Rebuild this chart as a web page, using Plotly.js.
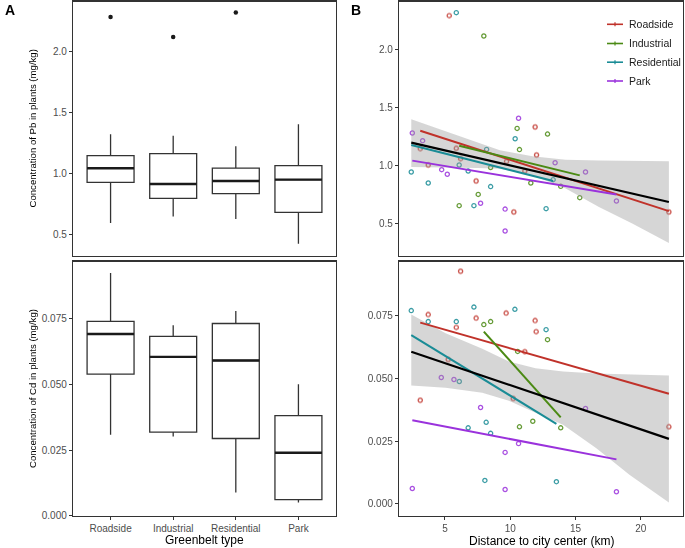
<!DOCTYPE html>
<html>
<head>
<meta charset="utf-8">
<script src="https://cdn.plot.ly/plotly-3.0.1.min.js"></script>
<style>html,body{margin:0;padding:0;background:#fff;}#chart{width:685px;height:548px;}</style>
</head>
<body>
<div id="chart"></div>
<script>
// ---------------- DATA ----------------
const categories = ['Roadside', 'Industrial', 'Residential', 'Park'];
const groupColors = ['#C0322A', '#4B8A14', '#1A8C96', '#9A32DC'];

// Box statistics (Pb)
const pbQ1   = [0.929, 0.798, 0.836, 0.683];
const pbMed  = [1.044, 0.915, 0.940, 0.951];
const pbQ3   = [1.148, 1.164, 1.046, 1.066];
const pbLow  = [0.596, 0.650, 0.628, 0.426];
const pbHigh = [1.322, 1.311, 1.224, 1.404];
const pbOutlierCat = ['Roadside', 'Industrial', 'Residential'];
const pbOutlierVal = [2.284, 2.120, 2.320];

// Box statistics (Cd)
const cdQ1   = [0.0539, 0.0318, 0.0294, 0.0061];
const cdMed  = [0.0692, 0.0605, 0.0591, 0.0240];
const cdQ3   = [0.0740, 0.0683, 0.0732, 0.0381];
const cdLow  = [0.0308, 0.0302, 0.0088, 0.0050];
const cdHigh = [0.0924, 0.0725, 0.0780, 0.0501];

// Scatter points: Pb vs distance
const roadsidePbX    = [5.33, 3.11, 3.72, 5.87, 6.20, 7.39, 9.72, 10.28, 11.12, 11.91, 12.02, 22.16];
const roadsidePbY    = [2.288, 1.141, 1.000, 1.144, 1.055, 0.862, 1.030, 0.595, 0.948, 1.328, 1.086, 0.595];
const industrialPbX  = [6.09, 7.55, 7.98, 8.50, 10.53, 10.71, 11.58, 12.86, 13.87, 15.33];
const industrialPbY  = [0.650, 0.747, 2.112, 0.978, 1.316, 1.133, 0.845, 1.267, 0.816, 0.719];
const residentialPbX = [2.42, 3.72, 5.87, 6.09, 6.78, 7.22, 8.19, 8.50, 10.38, 12.75, 13.29];
const residentialPbY = [0.940, 0.845, 2.314, 1.000, 0.948, 0.650, 1.135, 0.814, 1.227, 0.624, 0.874];
const parkPbX        = [2.50, 3.29, 4.75, 5.18, 7.73, 9.61, 9.61, 10.64, 13.44, 15.77, 18.14];
const parkPbY        = [1.276, 1.210, 0.960, 0.920, 0.670, 0.620, 0.431, 1.403, 1.020, 0.940, 0.690];

// Scatter points: Cd vs distance
const roadsideCdX    = [3.11, 3.72, 5.25, 5.87, 6.20, 7.39, 9.69, 10.23, 11.12, 11.91, 11.99, 22.16];
const roadsideCdY    = [0.0413, 0.0755, 0.0576, 0.0704, 0.0928, 0.0741, 0.0761, 0.0420, 0.0607, 0.0731, 0.0687, 0.0307];
const industrialCdX  = [7.98, 8.50, 10.57, 10.71, 11.73, 12.86, 13.87];
const industrialCdY  = [0.0715, 0.0727, 0.0608, 0.0307, 0.0329, 0.0655, 0.0303];
const residentialCdX = [2.42, 3.72, 5.87, 6.10, 6.78, 7.22, 8.06, 8.16, 8.50, 10.36, 12.75, 13.54];
const residentialCdY = [0.0771, 0.0727, 0.0727, 0.0488, 0.0303, 0.0785, 0.0093, 0.0325, 0.0281, 0.0776, 0.0695, 0.0088];
const parkCdX        = [2.50, 4.72, 5.69, 7.73, 9.61, 9.61, 10.64, 15.77, 18.14];
const parkCdY        = [0.0061, 0.0504, 0.0496, 0.0384, 0.0205, 0.0057, 0.0240, 0.0380, 0.0048];

// Fitted lines (start, end)
const roadsidePbFitX = [3.11, 22.16],  roadsidePbFitY = [1.296, 0.603];
const industrialPbFitX = [6.09, 15.33], industrialPbFitY = [1.167, 0.911];
const residentialPbFitX = [2.42, 13.29], residentialPbFitY = [1.172, 0.862];
const parkPbFitX = [2.50, 18.14], parkPbFitY = [1.038, 0.745];
const allPbFitX = [2.42, 22.16], allPbFitY = [1.193, 0.681];

const roadsideCdFitX = [3.11, 22.16], roadsideCdFitY = [0.0723, 0.0439];
const industrialCdFitX = [7.98, 13.87], industrialCdFitY = [0.0687, 0.0345];
const residentialCdFitX = [2.42, 13.54], residentialCdFitY = [0.0673, 0.0319];
const parkCdFitX = [2.50, 18.14], parkCdFitY = [0.0333, 0.0177];
const allCdFitX = [2.42, 22.16], allCdFitY = [0.0607, 0.0259];

// Confidence bands
const pbBandX     = [2.42, 5.0, 7.5, 9.21, 11.7, 14.25, 16.8, 19.35, 22.16];
const pbBandUpper = [1.394, 1.290, 1.195, 1.127, 1.075, 1.045, 1.040, 1.036, 1.032];
const pbBandLower = [0.983, 0.980, 0.975, 0.968, 0.911, 0.797, 0.638, 0.495, 0.328];
const cdBandX     = [2.42, 5.05, 7.86, 9.9, 11.94, 14.05, 16.6, 19.16, 22.16];
const cdBandUpper = [0.0755, 0.0681, 0.0619, 0.0568, 0.0541, 0.0528, 0.0520, 0.0516, 0.0512];
const cdBandLower = [0.0472, 0.0463, 0.0443, 0.0411, 0.0363, 0.0315, 0.0221, 0.0115, 0.0005];

// ---------------- BUILD ----------------
const W = 685, H = 548;
const px = v => v / W;
const py = v => 1 - v / H;
const FONT = 'Liberation Sans, Arial, sans-serif';
const catIdx = categories.map((c, i) => i + 1);
const BOXW = 0.75;

const traces = [];

function addBoxes(q1, med, q3, lo, hi, xa, ya) {
  traces.push({
    type: 'box', x: catIdx, q1: q1, median: med, q3: q3,
    lowerfence: lo, upperfence: hi, width: BOXW, whiskerwidth: 0,
    fillcolor: '#ffffff', line: {color: '#333333', width: 1.3},
    boxpoints: false, hoverinfo: 'skip', showlegend: false,
    xaxis: xa, yaxis: ya
  });
  med.forEach((m, i) => {
    traces.push({
      type: 'scatter', mode: 'lines', x: [catIdx[i] - BOXW / 2, catIdx[i] + BOXW / 2], y: [m, m],
      line: {color: '#1a1a1a', width: 2.4}, showlegend: false, hoverinfo: 'skip',
      xaxis: xa, yaxis: ya
    });
  });
}
addBoxes(pbQ1, pbMed, pbQ3, pbLow, pbHigh, 'x', 'y');
traces.push({
  type: 'scatter', mode: 'markers',
  x: pbOutlierCat.map(c => categories.indexOf(c) + 1), y: pbOutlierVal,
  marker: {color: '#1a1a1a', size: 4.5}, showlegend: false, xaxis: 'x', yaxis: 'y'
});
addBoxes(cdQ1, cdMed, cdQ3, cdLow, cdHigh, 'x3', 'y3');

function addScatterPanel(ptsX, ptsY, fitX, fitY, allX, allY, bandX, bandU, bandL, xa, ya) {
  ptsX.forEach((xs, g) => {
    traces.push({
      type: 'scatter', mode: 'markers', x: xs, y: ptsY[g],
      marker: {symbol: 'circle-open', size: 4.2, color: groupColors[g], line: {width: 1.3, color: groupColors[g]}},
      opacity: 0.85, showlegend: false, xaxis: xa, yaxis: ya
    });
  });
  traces.push({
    type: 'scatter', mode: 'lines',
    x: bandX.concat(bandX.slice().reverse()),
    y: bandU.concat(bandL.slice().reverse()),
    fill: 'toself', fillcolor: 'rgba(153,153,153,0.4)', line: {width: 0},
    showlegend: false, hoverinfo: 'skip', xaxis: xa, yaxis: ya
  });
  fitX.forEach((xs, g) => {
    traces.push({
      type: 'scatter', mode: 'lines', x: xs, y: fitY[g],
      line: {color: groupColors[g], width: 2}, showlegend: false, xaxis: xa, yaxis: ya
    });
  });
  traces.push({
    type: 'scatter', mode: 'lines', x: allX, y: allY,
    line: {color: '#000000', width: 2.2}, showlegend: false, xaxis: xa, yaxis: ya
  });
}
addScatterPanel(
  [roadsidePbX, industrialPbX, residentialPbX, parkPbX],
  [roadsidePbY, industrialPbY, residentialPbY, parkPbY],
  [roadsidePbFitX, industrialPbFitX, residentialPbFitX, parkPbFitX],
  [roadsidePbFitY, industrialPbFitY, residentialPbFitY, parkPbFitY],
  allPbFitX, allPbFitY, pbBandX, pbBandUpper, pbBandLower, 'x2', 'y2');
addScatterPanel(
  [roadsideCdX, industrialCdX, residentialCdX, parkCdX],
  [roadsideCdY, industrialCdY, residentialCdY, parkCdY],
  [roadsideCdFitX, industrialCdFitX, residentialCdFitX, parkCdFitX],
  [roadsideCdFitY, industrialCdFitY, residentialCdFitY, parkCdFitY],
  allCdFitX, allCdFitY, cdBandX, cdBandUpper, cdBandLower, 'x4', 'y4');

const leftDom = [px(73), px(336)];
const rightDom = [px(399), px(683)];
const topDom = [py(255.5), py(1.5)];
const botDom = [py(516), py(261.5)];

const baseAxis = {
  showline: true, mirror: true, linecolor: '#333333', linewidth: 1.2,
  showgrid: false, zeroline: false, ticks: 'outside', ticklen: 3, tickwidth: 1,
  tickcolor: '#333333', tickfont: {family: FONT, size: 10, color: '#4d4d4d'}
};
const ax = o => Object.assign({}, baseAxis, o);

const annotations = [
  {text: '<b>A</b>', x: px(3), y: py(10), xanchor: 'left', yanchor: 'middle', font: {family: FONT, size: 14, color: '#000'}},
  {text: '<b>B</b>', x: px(349), y: py(10), xanchor: 'left', yanchor: 'middle', font: {family: FONT, size: 14, color: '#000'}},
  {text: 'Concentration of Pb in plants (mg/kg)', x: px(32), y: py(128.5), textangle: -90, xanchor: 'center', yanchor: 'middle', font: {family: FONT, size: 9.6, color: '#000'}},
  {text: 'Concentration of Cd in plants (mg/kg)', x: px(32), y: py(389), textangle: -90, xanchor: 'center', yanchor: 'middle', font: {family: FONT, size: 9.6, color: '#000'}},
  {text: 'Greenbelt type', x: px(204.5), y: py(540), xanchor: 'center', yanchor: 'middle', font: {family: FONT, size: 12, color: '#000'}},
  {text: 'Distance to city center (km)', x: px(541), y: py(541), xanchor: 'center', yanchor: 'middle', font: {family: FONT, size: 12, color: '#000'}}
].map(a => Object.assign({xref: 'paper', yref: 'paper', showarrow: false}, a));

const legendRows = [24.3, 43.5, 62.2, 81];
const shapes = [];
categories.forEach((c, i) => {
  annotations.push({
    xref: 'paper', yref: 'paper', showarrow: false, text: c,
    x: px(627), y: py(legendRows[i]), xanchor: 'left', yanchor: 'middle',
    font: {family: FONT, size: 10.5, color: '#1a1a1a'}
  });
  shapes.push({type: 'line', xref: 'paper', yref: 'paper', x0: px(607), x1: px(623), y0: py(legendRows[i]), y1: py(legendRows[i]), line: {color: groupColors[i], width: 1.6}});
  shapes.push({type: 'line', xref: 'paper', yref: 'paper', x0: px(615), x1: px(615), y0: py(legendRows[i] - 2), y1: py(legendRows[i] + 2), line: {color: groupColors[i], width: 1.2}});
});

const layout = {
  width: W, height: H,
  margin: {l: 0, r: 0, t: 0, b: 0},
  paper_bgcolor: '#ffffff', plot_bgcolor: '#ffffff',
  showlegend: false,
  xaxis:  ax({domain: leftDom, anchor: 'y', range: [0.4, 4.6], showticklabels: false, ticks: ''}),
  yaxis:  ax({domain: topDom, anchor: 'x', range: [0.33, 2.41], tickvals: [0.5, 1.0, 1.5, 2.0], tickformat: '.1f'}),
  xaxis2: ax({domain: rightDom, anchor: 'y2', range: [1.48, 23.24], showticklabels: false, ticks: ''}),
  yaxis2: ax({domain: topDom, anchor: 'x2', range: [0.22, 2.41], tickvals: [0.5, 1.0, 1.5, 2.0], tickformat: '.1f'}),
  xaxis3: ax({domain: leftDom, anchor: 'y3', range: [0.4, 4.6], tickvals: catIdx, ticktext: categories}),
  yaxis3: ax({domain: botDom, anchor: 'x3', range: [-0.0001, 0.0968], tickvals: [0, 0.025, 0.05, 0.075], tickformat: '.3f'}),
  xaxis4: ax({domain: rightDom, anchor: 'y4', range: [1.48, 23.24], tickvals: [5, 10, 15, 20]}),
  yaxis4: ax({domain: botDom, anchor: 'x4', range: [-0.0049, 0.0967], tickvals: [0, 0.025, 0.05, 0.075], tickformat: '.3f'}),
  annotations: annotations,
  shapes: shapes
};

Plotly.newPlot('chart', traces, layout, {staticPlot: true, displayModeBar: false});
</script>
</body>
</html>
